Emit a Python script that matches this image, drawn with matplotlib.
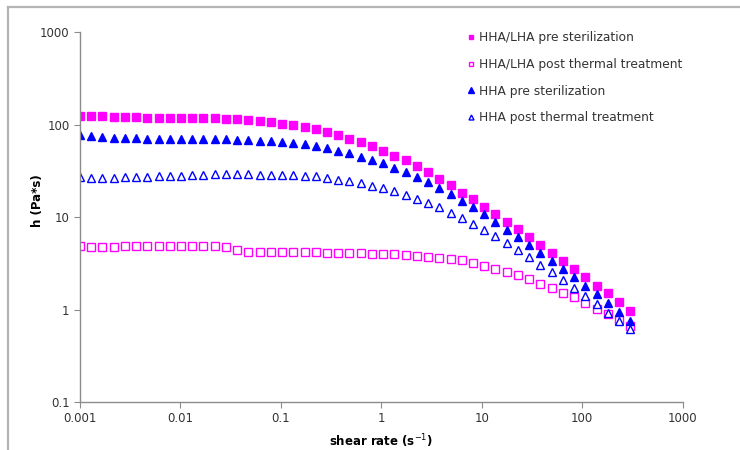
import numpy as np
import matplotlib
matplotlib.use("Agg")
import matplotlib.pyplot as plt
from matplotlib.lines import Line2D

# shear rate sweep, 50 points 0.001 -> 300 s^-1
shear_rate = [0.001, 0.001294, 0.001673, 0.002164, 0.0028, 0.003622, 0.004685, 0.006061, 0.007841, 0.01014,
              0.01312, 0.01697, 0.02195, 0.0284, 0.03673, 0.04752, 0.06147, 0.07952, 0.1029, 0.1331,
              0.1721, 0.2227, 0.288, 0.3725, 0.4819, 0.6233, 0.8063, 1.043, 1.349, 1.745,
              2.257, 2.92, 3.777, 4.886, 6.32, 8.176, 10.57, 13.68, 17.69, 22.89,
              29.61, 38.3, 49.54, 64.09, 82.9, 107.2, 138.7, 179.4, 232.1, 300.0]

hha_lha_pre = [124, 123, 123, 121, 121, 120, 119, 119, 119, 118,
               118, 118, 117, 116, 114, 112, 110, 107, 102.5, 99,
               94.5, 89, 84, 77.5, 70.6, 65.0, 58.8, 52.4, 46.2, 41.2,
               35.5, 30.5, 26.1, 22.1, 18.4, 15.6, 13.0, 10.8, 8.92, 7.38,
               6.04, 4.95, 4.09, 3.35, 2.74, 2.23, 1.81, 1.50, 1.22, 0.97]

hha_lha_post = [4.83, 4.71, 4.71, 4.71, 4.83, 4.83, 4.83, 4.83, 4.83, 4.83,
                4.83, 4.83, 4.91, 4.71, 4.41, 4.19, 4.19, 4.22, 4.19, 4.19,
                4.19, 4.16, 4.12, 4.08, 4.06, 4.05, 4.03, 4.0, 3.95, 3.92,
                3.82, 3.73, 3.64, 3.52, 3.4, 3.16, 2.96, 2.77, 2.57, 2.34,
                2.12, 1.90, 1.72, 1.52, 1.36, 1.17, 1.02, 0.89, 0.77, 0.66]

hha_pre = [77.5, 75.5, 73.6, 72.3, 71.2, 71.2, 70.6, 70, 70, 70,
           70, 70, 70, 69.5, 68.9, 67.8, 67.2, 66.1, 64.5, 62.9,
           61.4, 58.4, 55.4, 52.4, 49.4, 45.1, 41.5, 38.2, 34.3, 30.8,
           27.2, 24.0, 20.7, 17.7, 15.0, 12.8, 10.7, 8.9, 7.31, 6.04,
           4.99, 4.09, 3.38, 2.77, 2.23, 1.80, 1.46, 1.17, 0.93, 0.75]

hha_post = [27.2, 26.7, 26.7, 26.7, 27, 27.2, 27.2, 27.7, 27.9, 27.9,
            28.3, 28.8, 29.0, 29.0, 29.0, 29.0, 28.8, 28.8, 28.6, 28.3,
            28.1, 27.7, 26.3, 25.2, 24.4, 23.2, 21.7, 20.5, 19.0, 17.3,
            15.8, 14.3, 12.8, 11.2, 9.83, 8.5, 7.25, 6.2, 5.25, 4.41,
            3.70, 3.05, 2.53, 2.09, 1.72, 1.40, 1.14, 0.91, 0.76, 0.61]

labels = ["HHA/LHA pre sterilization", "HHA/LHA post thermal treatment",
          "HHA pre sterilization", "HHA post thermal treatment"]

fig = plt.figure(figsize=(7.4, 4.5), dpi=100)
ax = fig.add_axes([0.108, 0.1067, 0.8146, 0.8215])

# grey frame of the original chart (only top/left edges are inside the picture)
fx = 8/740; fy = 1 - 7/450
fig.lines.append(Line2D([fx, 1.0], [fy, fy], transform=fig.transFigure, color="#b4b4b4", lw=1.6))
fig.lines.append(Line2D([fx, fx], [0.0, fy], transform=fig.transFigure, color="#b4b4b4", lw=1.6))

mag = "#ff00ff"; blu = "#0000ff"
ax.plot(shear_rate, hha_lha_pre, "s", color=mag, ms=5.5, mec=mag, label=labels[0])
ax.plot(shear_rate, hha_lha_post, "s", mfc="white", mec=mag, ms=5.2, mew=1.0, label=labels[1])
ax.plot(shear_rate, hha_pre, "^", color=blu, ms=6, mec=blu, label=labels[2])
ax.plot(shear_rate, hha_post, "^", mfc="white", mec=blu, ms=5.5, mew=1.0, label=labels[3])

ax.set_xscale("log"); ax.set_yscale("log")
ax.set_xlim(0.001, 1000); ax.set_ylim(0.1, 1000)
ax.set_xticks([0.001, 0.01, 0.1, 1, 10, 100, 1000])
ax.set_xticklabels(["0.001", "0.01", "0.1", "1", "10", "100", "1000"])
ax.set_yticks([0.1, 1, 10, 100, 1000])
ax.set_yticklabels(["0.1", "1", "10", "100", "1000"])
ax.minorticks_off()
for s in ["top", "right"]:
    ax.spines[s].set_visible(False)
for s in ["left", "bottom"]:
    ax.spines[s].set_color("#8c8c8c"); ax.spines[s].set_linewidth(1.0)
ax.tick_params(direction="out", length=4, color="#8c8c8c", labelsize=8.5, labelcolor="#333333")

ax.set_xlabel("shear rate (s$^{-1}$)", fontsize=8.5, fontweight="bold", labelpad=5)
ax.set_ylabel("h (Pa*s)", fontsize=8.5, fontweight="bold")
ax.yaxis.set_label_coords(-0.060, 0.544)

leg = ax.legend(loc="upper left", bbox_to_anchor=(0.63, 1.0165), frameon=False,
                fontsize=8.85, markerscale=0.65, handletextpad=0.15, handlelength=1.0,
                labelspacing=1.12, borderaxespad=0)
for t in leg.get_texts():
    t.set_color("#333333")

fig.savefig("out.png", dpi=100)
